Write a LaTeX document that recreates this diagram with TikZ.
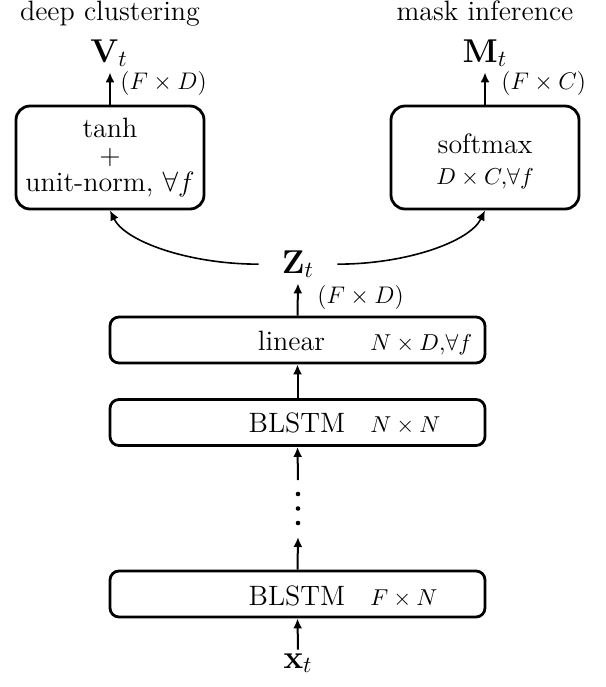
\documentclass[tikz,border=0pt]{standalone}
\usepackage{fix-cm}
\usepackage{amsmath,amssymb}
\usetikzlibrary{arrows.meta}
\begin{document}
\begin{tikzpicture}[x=0.5pt,y=-0.5pt,
  font=\fontsize{14}{16}\selectfont,
  bigbox/.style={draw,line width=1.4pt,rounded corners=7pt,inner sep=0pt,minimum width=94pt,minimum height=51.5pt},
  layer/.style={draw,line width=1.4pt,rounded corners=4.5pt,inner sep=0pt,minimum width=187.5pt,minimum height=23pt},
  arr/.style={-{Latex[length=5pt,width=4.5pt]},line width=1pt},
  curv/.style={-{Latex[length=5pt,width=4.5pt]},line width=0.8pt},
  dimtxt/.style={font=\fontsize{11.5}{13}\selectfont,anchor=base west,inner sep=0pt},
  shp/.style={font=\fontsize{12}{14}\selectfont,anchor=base west,inner sep=0pt},
  var/.style={anchor=base,inner xsep=2pt,inner ysep=2.5pt,font=\fontsize{16.5}{18}\selectfont},
  txt/.style={anchor=base,inner sep=0pt},
  dot/.style={fill=black}]
\useasboundingbox (0,0) rectangle (606,687);
% titles
\node[txt] (dc) at (110,20) {deep clustering};
\node[txt] (mi) at (485,20) {mask inference};
% outputs
\node[var] (V) at (109,62) {$\mathbf{V}_t$};
\node[var] (M) at (485,62) {$\mathbf{M}_t$};
\node[shp] (sv) at (120,89) {$(F\times D)$};
\node[shp] (sm) at (501,89) {$(F\times C)$};
% heads
\node[bigbox,align=center,font=\fontsize{14}{13.5}\selectfont] (lb) at (110,157.5) {tanh\\+\\unit-norm, $\forall f$};
\node[bigbox] (rb) at (485,157.5) {};
\node[txt] (smx) at (485,153) {softmax};
\node[txt,font=\fontsize{11.5}{13}\selectfont] (smd) at (485,184) {$D\times C,\!\forall f$};
\draw[arr] (lb.north) -- (lb.north |- V.south);
\draw[arr] (rb.north) -- (M.south);
% embedding
\node[var,inner xsep=11.5pt] (Z) at (298,273) {$\mathbf{Z}_t$};
\node[shp] (sz) at (317,303) {$(F\times D)$};
\draw[curv] (Z.west) .. controls +(-70,0) and +(15,31) .. (lb.south);
\draw[curv] (Z.east) .. controls +(70,0) and +(-15,31) .. (rb.south);
% layers
\node[layer] (lin) at (297.5,340) {};
\node[txt] (lint) at (291.5,350) {linear};
\node[dimtxt] (lind) at (370,350) {$N\times D,\!\forall f$};
\node[layer] (b1) at (297.5,422.5) {};
\node[txt] (b1t) at (297,432) {BLSTM};
\node[dimtxt] (b1d) at (370,432) {$N\times N$};
\coordinate (dots) at (298,508.5);
\coordinate (dotstop) at (298,480);
\coordinate (dotsbot) at (298,537);
\fill[dot] ([yshift=7.25pt]dots) circle (1.15pt);
\fill[dot] (dots) circle (1.15pt);
\fill[dot] ([yshift=-7.25pt]dots) circle (1.15pt);
\node[layer] (b2) at (297.5,594) {};
\node[txt] (b2t) at (297,605) {BLSTM};
\node[dimtxt] (b2d) at (370,605) {$F\times N$};
\node[var,inner ysep=1.7pt] (x) at (298,668) {$\mathbf{x}_t$};
\draw[arr] (lin.north) -- (Z.south);
\draw[arr] (b1.north) -- (lin.south);
\draw[arr] (dotstop) -- (b1.south);
\draw[arr] (b2.north) -- (dotsbot);
\draw[arr] (x.north) -- (b2.south);
\end{tikzpicture}
\end{document}
